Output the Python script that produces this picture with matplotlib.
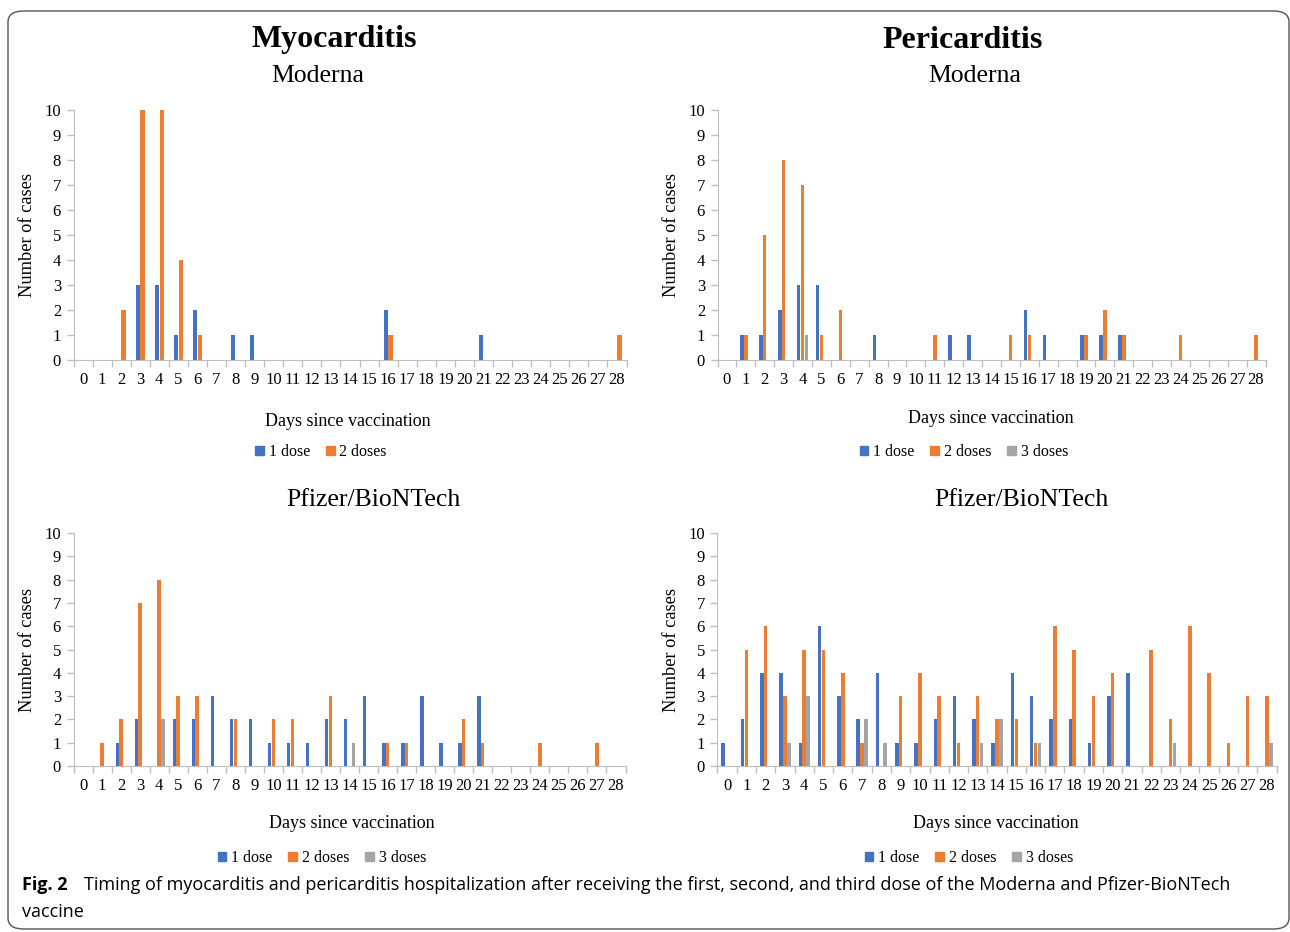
import matplotlib.pyplot as plt
from matplotlib.patches import Patch, FancyBboxPatch
from matplotlib import font_manager

# Days since vaccination (categories on x)
days = list(range(29))

# Myocarditis, Moderna
myo_mod_1 = [0, 0, 0, 3, 3, 1, 2, 0, 1, 1, 0, 0, 0, 0, 0, 0, 2, 0, 0, 0, 0, 1, 0, 0, 0, 0, 0, 0, 0]
myo_mod_2 = [0, 0, 2, 10, 10, 4, 1, 0, 0, 0, 0, 0, 0, 0, 0, 0, 1, 0, 0, 0, 0, 0, 0, 0, 0, 0, 0, 0, 1]

# Pericarditis, Moderna
peri_mod_1 = [0, 1, 1, 2, 3, 3, 0, 0, 1, 0, 0, 0, 1, 1, 0, 0, 2, 1, 0, 1, 1, 1, 0, 0, 0, 0, 0, 0, 0]
peri_mod_2 = [0, 1, 5, 8, 7, 1, 2, 0, 0, 0, 0, 1, 0, 0, 0, 1, 1, 0, 0, 1, 2, 1, 0, 0, 1, 0, 0, 0, 1]
peri_mod_3 = [0, 0, 0, 0, 1, 0, 0, 0, 0, 0, 0, 0, 0, 0, 0, 0, 0, 0, 0, 0, 0, 0, 0, 0, 0, 0, 0, 0, 0]

# Myocarditis, Pfizer/BioNTech
myo_pf_1 = [0, 0, 1, 2, 0, 2, 2, 3, 2, 2, 1, 1, 1, 2, 2, 3, 1, 1, 3, 1, 1, 3, 0, 0, 0, 0, 0, 0, 0]
myo_pf_2 = [0, 1, 2, 7, 8, 3, 3, 0, 2, 0, 2, 2, 0, 3, 0, 0, 1, 1, 0, 0, 2, 1, 0, 0, 1, 0, 0, 1, 0]
myo_pf_3 = [0, 0, 0, 0, 2, 0, 0, 0, 0, 0, 0, 0, 0, 0, 1, 0, 0, 0, 0, 0, 0, 0, 0, 0, 0, 0, 0, 0, 0]

# Pericarditis, Pfizer/BioNTech
peri_pf_1 = [1, 2, 4, 4, 1, 6, 3, 2, 4, 1, 1, 2, 3, 2, 1, 4, 3, 2, 2, 1, 3, 4, 0, 0, 0, 0, 0, 0, 0]
peri_pf_2 = [0, 5, 6, 3, 5, 5, 4, 1, 0, 3, 4, 3, 1, 3, 2, 2, 1, 6, 5, 3, 4, 0, 5, 2, 6, 4, 1, 3, 3]
peri_pf_3 = [0, 0, 0, 1, 3, 0, 0, 2, 1, 0, 0, 0, 0, 1, 2, 0, 1, 0, 0, 0, 0, 0, 0, 1, 0, 0, 0, 0, 1]

dose_labels = ['1 dose', '2 doses', '3 doses']
colors = ['#4472C4', '#ED7D31', '#A5A5A5']

serif = 'Liberation Serif'
names = {f.name for f in font_manager.fontManager.ttflist}
if 'Liberation Sans Narrow' in names:
    cap_font, cap_size = 'Liberation Sans Narrow', 14.2
else:
    cap_font, cap_size = 'Open Sans', 13.0

W, H = 1290, 932
fig = plt.figure(figsize=(W / 100, H / 100), dpi=100)


def px(x0, y0, x1, y1):
    # pixel box -> figure fraction [left, bottom, width, height]
    return [x0 / W, 1 - y1 / H, (x1 - x0) / W, (y1 - y0) / H]


def draw_panel(box, series):
    ax = fig.add_axes(box)
    n = len(series)
    width = 1.0 / (n + 2)
    for i, vals in enumerate(series):
        off = (i - (n - 1) / 2) * width
        ax.bar([d + off for d in days], vals, width=width * 0.92,
               color=colors[i], edgecolor='none', zorder=3)
    ax.set_xlim(-0.5, 28.5)
    ax.set_ylim(0, 10)
    ax.set_yticks(range(11))
    ax.set_xticks(days)
    ax.set_xticks([d - 0.5 for d in days] + [28.5], minor=True)
    ax.tick_params(axis='x', which='major', length=0, pad=9, labelsize=12)
    ax.tick_params(axis='x', which='minor', length=5, color='#BFBFBF', width=1)
    ax.tick_params(axis='y', length=5, color='#BFBFBF', width=1, pad=4, labelsize=12)
    for lab in ax.get_xticklabels() + ax.get_yticklabels():
        lab.set_fontfamily(serif)
    for s in ['top', 'right']:
        ax.spines[s].set_visible(False)
    for s in ['left', 'bottom']:
        ax.spines[s].set_color('#BFBFBF')
    return ax


# Four panels
draw_panel(px(73.5, 110, 626.5, 360), [myo_mod_1, myo_mod_2])
draw_panel(px(717.5, 110, 1265.5, 360), [peri_mod_1, peri_mod_2, peri_mod_3])
draw_panel(px(73.5, 533, 625.5, 766), [myo_pf_1, myo_pf_2, myo_pf_3])
draw_panel(px(717.4, 533, 1276.6, 766), [peri_pf_1, peri_pf_2, peri_pf_3])


def ftext(x, y, s, **kw):
    fig.text(x / W, 1 - y / H, s, ha='center', va='center', family=serif, **kw)


# Titles
ftext(334, 40, 'Myocarditis', fontsize=23, fontweight='bold')
ftext(963, 40, 'Pericarditis', fontsize=23, fontweight='bold')
ftext(318, 76, 'Moderna', fontsize=18.5)
ftext(975, 76, 'Moderna', fontsize=18.5)
ftext(373, 500, 'Pfizer/BioNTech', fontsize=18.5)
ftext(1021, 500, 'Pfizer/BioNTech', fontsize=18.5)

# Axis labels
for x, y in [(28, 235), (672, 235), (28, 650), (672, 650)]:
    ftext(x, y, 'Number of cases', fontsize=13.2, rotation=90)
for x, y in [(348, 422), (991, 418), (352, 823), (996, 823)]:
    ftext(x, y, 'Days since vaccination', fontsize=13)

# Legends
for (x, y), n in [((321, 452), 2), ((964, 452), 3), ((322, 858), 3), ((969, 858), 3)]:
    handles = [Patch(color=colors[i], label=dose_labels[i]) for i in range(n)]
    fig.legend(handles=handles, loc='center', bbox_to_anchor=(x / W, 1 - y / H),
               ncol=n, frameon=False, handlelength=0.55, handleheight=0.55,
               handletextpad=0.3, columnspacing=1.0,
               prop={'family': serif, 'size': 11.5})

# Caption
fig.text(22 / W, 1 - 885 / H, 'Fig. 2', ha='left', va='center',
         family=cap_font, fontweight='bold', fontsize=cap_size)
fig.text(84 / W, 1 - 885 / H,
         'Timing of myocarditis and pericarditis hospitalization after receiving the first, '
         'second, and third dose of the Moderna and Pfizer-BioNTech',
         ha='left', va='center', family=cap_font, fontsize=cap_size)
fig.text(22 / W, 1 - 912 / H, 'vaccine', ha='left', va='center',
         family=cap_font, fontsize=cap_size)

# Rounded frame around the figure
frame = FancyBboxPatch((8 / W, 3 / H), 1281 / W, 918 / H,
                       boxstyle='round,pad=0,rounding_size=0.012',
                       transform=fig.transFigure, fill=False,
                       edgecolor='#555555', linewidth=1.0)
fig.patches.append(frame)

fig.savefig('out.png', dpi=100)
